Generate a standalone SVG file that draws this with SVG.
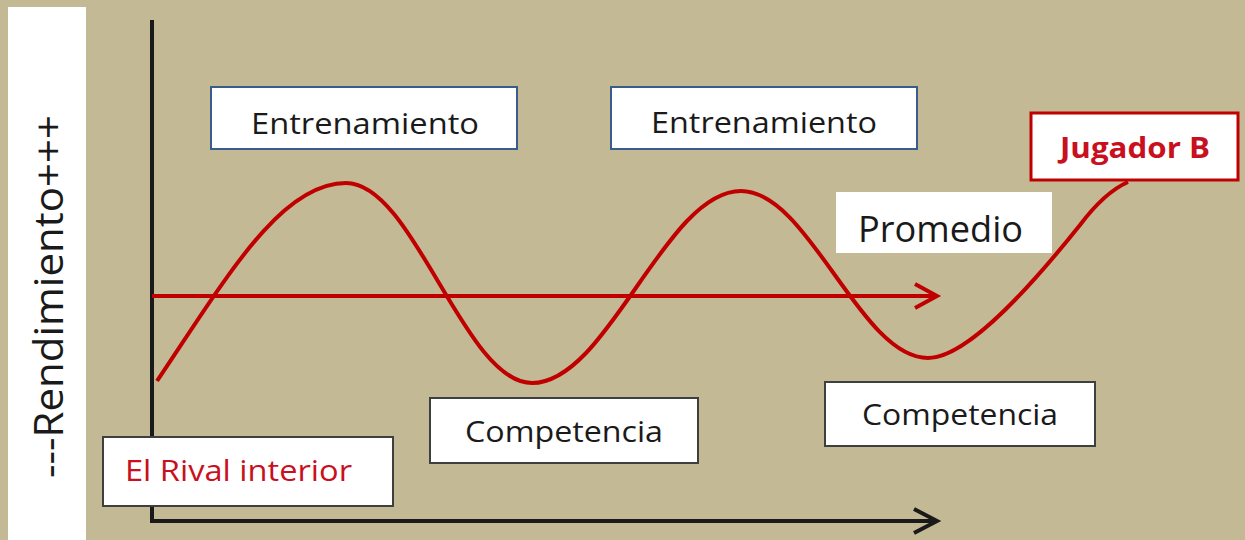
<svg xmlns="http://www.w3.org/2000/svg" width="1245" height="540" viewBox="0 0 1245 540">
<style>
.lbl{font-family:"Open Sans","Liberation Sans",sans-serif;fill:#1a1a1a}
.red{fill:#c8101e}
.box{fill:#ffffff}
.blue{stroke:#385d8a;stroke-width:2}
.gray{stroke:#3f3f3f;stroke-width:2}
.ax{fill:none;stroke:#1a1a1a;stroke-width:4}
.rl{fill:none;stroke:#c00000;stroke-width:4}
</style>
<rect x="0" y="0" width="1245" height="540" fill="#c3ba95"/>
<rect x="8" y="7" width="78" height="533" fill="#ffffff"/>
<g id="ylabel">
<text class="lbl" transform="translate(63,296.5) rotate(-90)" text-anchor="middle" font-size="40" textLength="363" lengthAdjust="spacingAndGlyphs">---Rendimiento+++</text>
</g>
<g id="connectors">
<path class="ax" d="M152,20 V521 H936"/>
<path class="ax" d="M914,509 L937,521 L914,533"/>
<path class="rl" d="M152,296 H935"/>
<path class="rl" d="M915,284 L937,296 L915,308"/>
<path class="rl" stroke-width="3.5" d="M157,381 C225,280 280,183 346,183 C414,183 464,383 532,383 C608,383 665,191 741,191 C809,191 860,358 928,358 C970,358 1040,275 1080,225 C1095,205 1110,190 1128,182"/>
</g>
<g id="entrenamiento1">
<rect class="box blue" x="211" y="87" width="306" height="62"/>
<text class="lbl" x="251" y="134" font-size="30" textLength="228" lengthAdjust="spacingAndGlyphs">Entrenamiento</text>
</g>
<g id="entrenamiento2">
<rect class="box blue" x="611" y="87" width="306" height="62"/>
<text class="lbl" x="651" y="133" font-size="30" textLength="226" lengthAdjust="spacingAndGlyphs">Entrenamiento</text>
</g>
<g id="promedio">
<rect class="box" x="836" y="192" width="216" height="61"/>
<text class="lbl" x="858" y="242" font-size="36" textLength="165" lengthAdjust="spacingAndGlyphs">Promedio</text>
</g>
<g id="jugadorB">
<rect class="box" x="1031" y="113" width="207" height="67" stroke="#c00000" stroke-width="3"/>
<text class="lbl red" x="1060" y="158" font-size="28" font-weight="bold" textLength="150" lengthAdjust="spacingAndGlyphs">Jugador B</text>
</g>
<g id="competencia1">
<rect class="box gray" x="430" y="398" width="268" height="65"/>
<text class="lbl" x="465" y="442" font-size="30" textLength="198" lengthAdjust="spacingAndGlyphs">Competencia</text>
</g>
<g id="competencia2">
<rect class="box gray" x="825" y="382" width="270" height="64"/>
<text class="lbl" x="862" y="425" font-size="30" textLength="196" lengthAdjust="spacingAndGlyphs">Competencia</text>
</g>
<g id="rival">
<rect class="box gray" x="103" y="437" width="290" height="69"/>
<text class="lbl red" x="125" y="481" font-size="30" textLength="227" lengthAdjust="spacingAndGlyphs">El Rival interior</text>
</g>
</svg>
